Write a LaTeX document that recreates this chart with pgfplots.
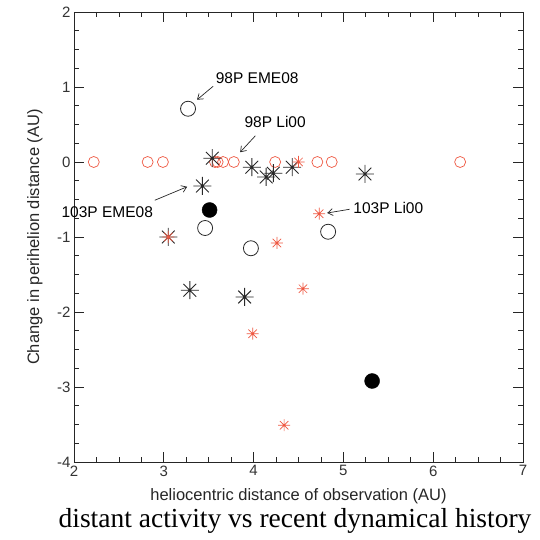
\documentclass[border=0pt]{standalone}
\usepackage{pgfplots}
\pgfplotsset{compat=1.18}
\usetikzlibrary{arrows.meta}
\usepackage{fontspec}
\setmainfont{Liberation Sans}
\newfontfamily\serif{Liberation Serif}
\definecolor{myred}{RGB}{238,88,66}
\definecolor{mydark}{RGB}{40,40,40}
\pgfdeclareplotmark{star8}{%
  \pgfpathmoveto{\pgfqpoint{-\pgfplotmarksize}{0pt}}\pgfpathlineto{\pgfqpoint{\pgfplotmarksize}{0pt}}%
  \pgfpathmoveto{\pgfqpoint{0pt}{-\pgfplotmarksize}}\pgfpathlineto{\pgfqpoint{0pt}{\pgfplotmarksize}}%
  \pgfpathmoveto{\pgfqpoint{-0.707\pgfplotmarksize}{-0.707\pgfplotmarksize}}\pgfpathlineto{\pgfqpoint{0.707\pgfplotmarksize}{0.707\pgfplotmarksize}}%
  \pgfpathmoveto{\pgfqpoint{-0.707\pgfplotmarksize}{0.707\pgfplotmarksize}}\pgfpathlineto{\pgfqpoint{0.707\pgfplotmarksize}{-0.707\pgfplotmarksize}}%
  \pgfusepathqstroke}
\tikzset{annarrow/.style={-{Straight Barb[length=5pt,width=7pt]}, line width=0.7pt, black!85}}
\begin{document}
\begin{tikzpicture}
\path (-74pt,-78pt) rectangle (465pt,462pt);
\begin{axis}[
  scale only axis, width=449pt, height=450pt,
  xmin=2, xmax=7, ymin=-4, ymax=2,
  xtick={2,3,4,5,6,7}, ytick={-4,-3,-2,-1,0,1,2},
  minor x tick num=3, minor y tick num=3,
  tick align=inside, major tick length=10pt, minor tick length=5pt,
  tick style={black!85, line width=0.8pt},
  axis line style={line width=0.8pt, black!85},
  ticklabel style={font=\fontsize{15}{17}\selectfont, text=black!80},
  /pgf/number format/assume math mode=true,
  xlabel={heliocentric distance of observation (AU)},
  ylabel={Change in perihelion distance (AU)},
  label style={font=\fontsize{16.5}{19}\selectfont, text=black!85},
  xlabel style={at={(axis description cs:0.5,-0.0756)}, anchor=center},
  ylabel style={at={(axis description cs:-0.087,0.5)}, anchor=center},
  clip=false,
]
% red open circles at 0
\addplot[only marks, mark=o, mark size=5.5pt, myred, line width=0.7pt] coordinates {
 (2.22,0) (2.82,0) (2.99,0) (3.57,0) (3.60,0) (3.66,0) (3.78,0) (4.24,0) (4.71,0) (4.87,0) (6.30,0)};
% black open circles
\addplot[only marks, mark=o, mark size=7.5pt, mydark, line width=0.8pt] coordinates {
 (3.27,0.71) (3.46,-0.88) (3.97,-1.15) (4.83,-0.93)};
% filled circles
\addplot[only marks, mark=*, mark size=7.5pt, black] coordinates {
 (3.51,-0.64) (5.32,-2.92)};
% black asterisks
\addplot[only marks, mark=star8, mark size=9pt, mydark, line width=0.9pt] coordinates {
 (3.54,0.05) (3.43,-0.32) (3.98,-0.07) (4.14,-0.2) (4.22,-0.15) (4.43,-0.07) (5.24,-0.16) (3.05,-1.0) (3.29,-1.71) (3.90,-1.8)};
% red asterisks
\addplot[only marks, mark=star8, mark size=6pt, myred, line width=0.7pt] coordinates {
 (4.5,0) (4.73,-0.69) (4.26,-1.08) (3.05,-1.0) (4.55,-1.69) (3.99,-2.29) (4.34,-3.51)};
% annotations
\node[font=\fontsize{15.5}{18}\selectfont] at (axis cs:4.04,1.12) {98P EME08};
\draw[annarrow] (axis cs:3.55,1.01) -- (axis cs:3.37,0.83);
\node[font=\fontsize{15.5}{18}\selectfont] at (axis cs:4.24,0.53) {98P Li00};
\draw[annarrow] (axis cs:4.02,0.35) -- (axis cs:3.85,0.13);
\node[font=\fontsize{15.5}{18}\selectfont] at (axis cs:2.37,-0.67) {103P EME08};
\draw[annarrow] (axis cs:2.90,-0.51) -- (axis cs:3.26,-0.33);
\node[font=\fontsize{15.5}{18}\selectfont] at (axis cs:5.50,-0.61) {103P Li00};
\draw[annarrow] (axis cs:5.07,-0.63) -- (axis cs:4.82,-0.68);
\end{axis}
\node[font=\serif\fontsize{27.5}{31}\selectfont] at (221pt,-59pt) {distant activity vs recent dynamical history};
\end{tikzpicture}
\end{document}
